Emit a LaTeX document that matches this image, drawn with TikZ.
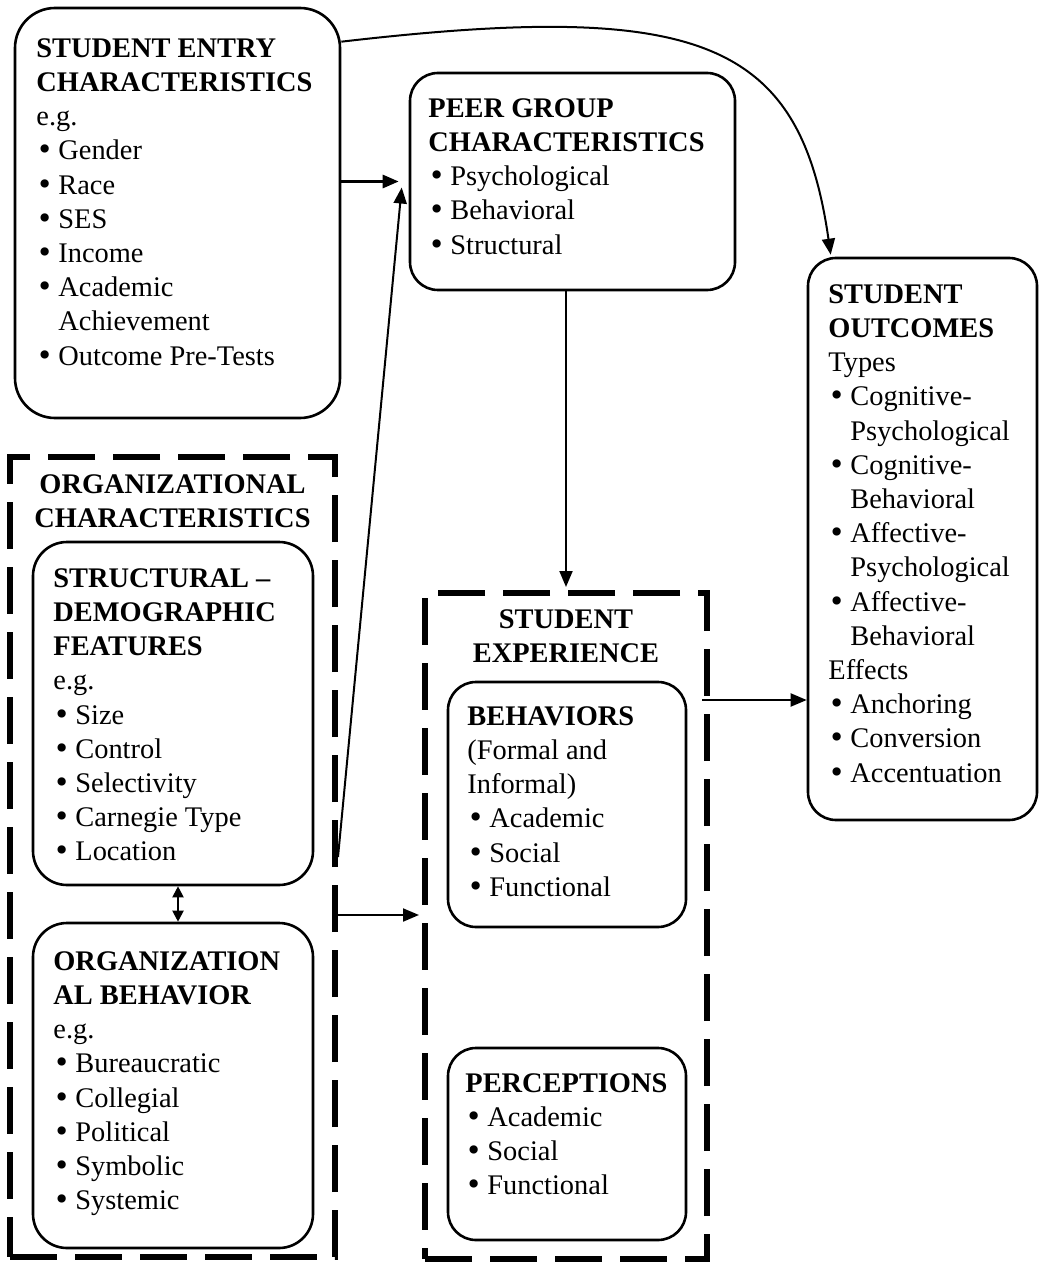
\documentclass[tikz,border=0pt]{standalone}
\usepackage{fontspec}
\setmainfont{Liberation Serif}
\newfontfamily\bulfont{DejaVu Serif}
\usetikzlibrary{arrows.meta,fit}

\newcommand{\itm}[1]{\makebox[11pt][l]{\bulfont\textbullet}#1}
\newcommand{\cnt}[1]{\hspace*{11pt}#1}

\tikzset{
	box/.style={draw=black, line width=1.3pt, rounded corners=14pt, inner sep=0pt},
	dbox/.style={draw=black, line width=3pt, dash pattern=on 23.5pt off 9pt, inner sep=0pt},
	txt/.style={anchor=north west, align=left, inner sep=0pt, font=\fontsize{14.2}{17.1}\selectfont},
	pfeil/.style={line width=1pt, -{Triangle[length=8pt,width=6.5pt]}},
	doppel/.style={line width=1pt, {Triangle[length=5.5pt,width=5.5pt]}-{Triangle[length=5.5pt,width=5.5pt]}}
}

\begin{document}
\begin{tikzpicture}[x=0.5pt, y=-0.5pt]
	\useasboundingbox (0,0) rectangle (1039,1262);
	% Rahmen
	\node[box, rounded corners=20pt, fit={(15,8) (340,418)}] (entry) {};
	\node[box, fit={(410,73) (735,290)}] (peer) {};
	\node[dbox, fit={(10,457) (335,1257)}] (org) {};
	\node[box, rounded corners=17pt, fit={(33,542) (313,885)}] (struct) {};
	\node[box, rounded corners=17pt, fit={(33,923) (313,1248)}] (orgbeh) {};
	\node[dbox, fit={(425,593) (707,1259)}] (exp) {};
	\node[box, fit={(448,682) (686,927)}] (behav) {};
	\node[box, fit={(448,1048) (686,1240)}] (percep) {};
	\node[box, fit={(808,258) (1037,820)}] (outc) {};

	% Texte
	\node[txt] (entrytxt) at (36,38) {\textbf{STUDENT ENTRY}\\
		\textbf{CHARACTERISTICS}\\ e.g.\\ \itm{Gender}\\ \itm{Race}\\
		\itm{SES}\\ \itm{Income}\\ \itm{Academic}\\ \cnt{Achievement}\\
		\itm{Outcome Pre-Tests}};
	\node[txt] (peertxt) at (428,98) {\textbf{PEER GROUP}\\
		\textbf{CHARACTERISTICS}\\ \itm{Psychological}\\ \itm{Behavioral}\\
		\itm{Structural}};
	\node[txt, anchor=north, align=center] (orgtxt) at (172.5,474)
		{\textbf{ORGANIZATIONAL}\\ \textbf{CHARACTERISTICS}};
	\node[txt] (structtxt) at (53,568) {\textbf{STRUCTURAL --}\\
		\textbf{DEMOGRAPHIC}\\ \textbf{FEATURES}\\ e.g.\\ \itm{Size}\\
		\itm{Control}\\ \itm{Selectivity}\\ \itm{Carnegie Type}\\
		\itm{Location}};
	\node[txt] (orgbehtxt) at (53,951) {\textbf{ORGANIZATION}\\
		\textbf{AL BEHAVIOR}\\ e.g.\\ \itm{Bureaucratic}\\ \itm{Collegial}\\
		\itm{Political}\\ \itm{Symbolic}\\ \itm{Systemic}};
	\node[txt, anchor=north, align=center] (exptxt) at (566,609)
		{\textbf{STUDENT}\\ \textbf{EXPERIENCE}};
	\node[txt] (behavtxt) at (467,706) {\textbf{BEHAVIORS}\\
		(Formal and\\ Informal)\\ \itm{Academic}\\ \itm{Social}\\
		\itm{Functional}};
	\node[txt] (perceptxt) at (465,1073) {\textbf{PERCEPTIONS}\\
		\itm{Academic}\\ \itm{Social}\\ \itm{Functional}};
	\node[txt] (outctxt) at (828,284) {\textbf{STUDENT}\\
		\textbf{OUTCOMES}\\ Types\\ \itm{Cognitive-}\\ \cnt{Psychological}\\
		\itm{Cognitive-}\\ \cnt{Behavioral}\\ \itm{Affective-}\\
		\cnt{Psychological}\\ \itm{Affective-}\\ \cnt{Behavioral}\\ Effects\\
		\itm{Anchoring}\\ \itm{Conversion}\\ \itm{Accentuation}};

	% Pfeile
	\coordinate (orgaus) at (335,915);
	\coordinate (behaus) at (702,700);
	\draw[pfeil, line width=1.4pt] (entry.east |- peer.west) -- ([xshift=-5pt]peer.west);
	\draw[pfeil] (org.east) -- ([xshift=-3.5pt,yshift=-3pt]peer.west);
	\draw[pfeil] (orgaus) -- ([xshift=-1.5pt]orgaus -| exp.west);
	\draw[pfeil] (peer.south -| exp.north) -- ([yshift=1.5pt]exp.north);
	\draw[pfeil] (behaus) -- (behaus -| outc.west);
	\draw[doppel] ([xshift=2.5pt]struct.south) -- ([xshift=2.5pt]orgbeh.north);
	\draw[pfeil] ([yshift=-17.5pt]entry.north east) .. controls (700,0) and (800,40)
		.. ([xshift=12pt,yshift=1pt]outc.north west);
\end{tikzpicture}
\end{document}
